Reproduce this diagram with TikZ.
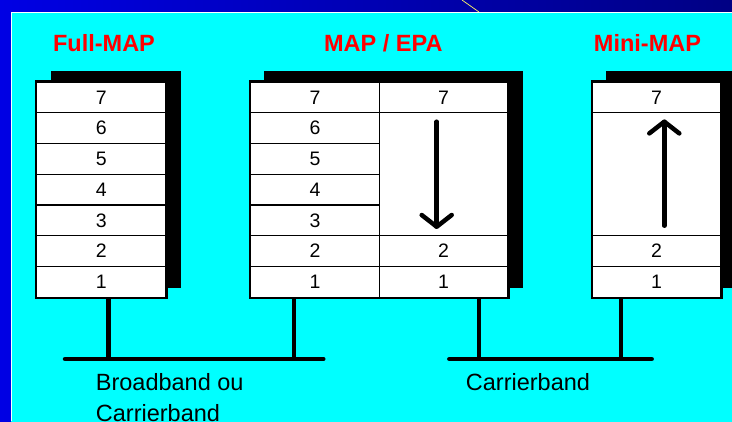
\documentclass[tikz,border=0pt]{standalone}
\usepackage{fontspec}
\setmainfont{Liberation Sans}
\usetikzlibrary{calc}
\definecolor{bgleft}{RGB}{0,0,228}
\definecolor{bgright}{RGB}{0,0,132}
\definecolor{panel}{RGB}{0,255,255}
\definecolor{titlered}{RGB}{255,0,0}
\begin{document}
\begin{tikzpicture}[x=1pt,y=-1pt,
  cell/.style={draw=black, fill=white, line width=1.4, inner sep=0,
    minimum height=30.757, font=\fontsize{19.5}{21}\selectfont},
  frame/.style={draw=black, line width=2.2},
  shadow/.style={fill=black},
  title/.style={text=titlered, font=\fontsize{23.5}{28}\selectfont\bfseries, anchor=base, inner sep=0},
  caption/.style={font=\fontsize{23.5}{30.3}\selectfont, align=left, anchor=north west, inner sep=0},
  bus/.style={line width=4.5, line cap=round},
  drop/.style={line width=4.5},
  flow/.style={line width=4.5, line cap=round, line join=round}]
\useasboundingbox (0,0) rectangle (732,421);

% backdrop and panel
\shade[left color=bgleft, right color=bgright] (0,0) rectangle (732,421);
\fill[panel] (11,12) rectangle (733,422);
\draw[white, line width=1] (11,421) -- (11,12) -- (732,12);
\draw[yellow!60!white, line width=0.7] (462,0) -- (479,12);

% titles
\node[title] (tFull) at (104,51.5) {Full-MAP};
\node[title] (tEpa)  at (383.3,51.5) {MAP / EPA};
\node[title] (tMini) at (647.5,51.5) {Mini-MAP};

% shadows
\fill[shadow] (50.7,71) rectangle (181.3,288);
\fill[shadow] (264.3,71) rectangle (522.7,288);
\fill[shadow] (606,71) rectangle (736,288);

% Full-MAP stack: layers 7..1
\foreach \n [count=\i from 0] in {7,6,5,4,3,2,1}
  \node[cell, minimum width=129] (fm\n) at (101.2,{97.38+30.757*\i}) {\n};
\draw[frame] (fm7.north west) rectangle (fm1.south east);

% MAP / EPA stack: full column and reduced column
\foreach \n [count=\i from 0] in {7,6,5,4,3,2,1}
  \node[cell, minimum width=128.5] (ep\n) at (314.95,{97.38+30.757*\i}) {\n};
\node[cell, minimum width=128.5] (er7) at (443.45,97.38) {7};
\node[cell, minimum width=128.5, minimum height=123.03] (erMid) at (443.45,174.28) {};
\node[cell, minimum width=128.5] (er2) at (443.45,251.16) {2};
\node[cell, minimum width=128.5] (er1) at (443.45,281.92) {1};
\draw[frame] (ep7.north west) rectangle (er1.south east);

% Mini-MAP stack
\node[cell, minimum width=128.4] (mm7) at (656.5,97.38) {7};
\node[cell, minimum width=128.4, minimum height=123.03] (mmMid) at (656.5,174.28) {};
\node[cell, minimum width=128.4] (mm2) at (656.5,251.16) {2};
\node[cell, minimum width=128.4] (mm1) at (656.5,281.92) {1};
\draw[frame] (mm7.north west) rectangle (mm1.south east);

% layer skipping arrows
\coordinate (dTop) at (436.7,121.7);
\coordinate (dTip) at (436.7,226.7);
\draw[flow] (dTop) -- (dTip);
\draw[flow] ($(dTip)+(-15,-11.7)$) -- (dTip) -- ($(dTip)+(15,-11.7)$);
\coordinate (uBot) at (664.3,225.7);
\coordinate (uTip) at (664.3,121.7);
\draw[flow] (uBot) -- (uTip);
\draw[flow] ($(uTip)+(-15,11.7)$) -- (uTip) -- ($(uTip)+(15,11.7)$);

% buses and drops
\coordinate (busLw) at (65,359);
\coordinate (busLe) at (323.3,359);
\coordinate (tapA) at (108.3,359);
\coordinate (tapB) at (294,359);
\coordinate (busRw) at (449.3,359);
\coordinate (busRe) at (651.7,359);
\coordinate (tapC) at (479,359);
\coordinate (tapD) at (621,359);
\draw[bus] (busLw) -- (busLe);
\draw[bus] (busRw) -- (busRe);
\draw[drop] (fm1.south -| tapA) -- (tapA);
\draw[drop] (ep1.south -| tapB) -- (tapB);
\draw[drop] (er1.south -| tapC) -- (tapC);
\draw[drop] (mm1.south -| tapD) -- (tapD);

% bus captions
\node[caption] (capL) at (95.7,373.5) {Broadband ou\\Carrierband};
\node[caption] (capR) at (465.7,373.5) {Carrierband};
\end{tikzpicture}
\end{document}
